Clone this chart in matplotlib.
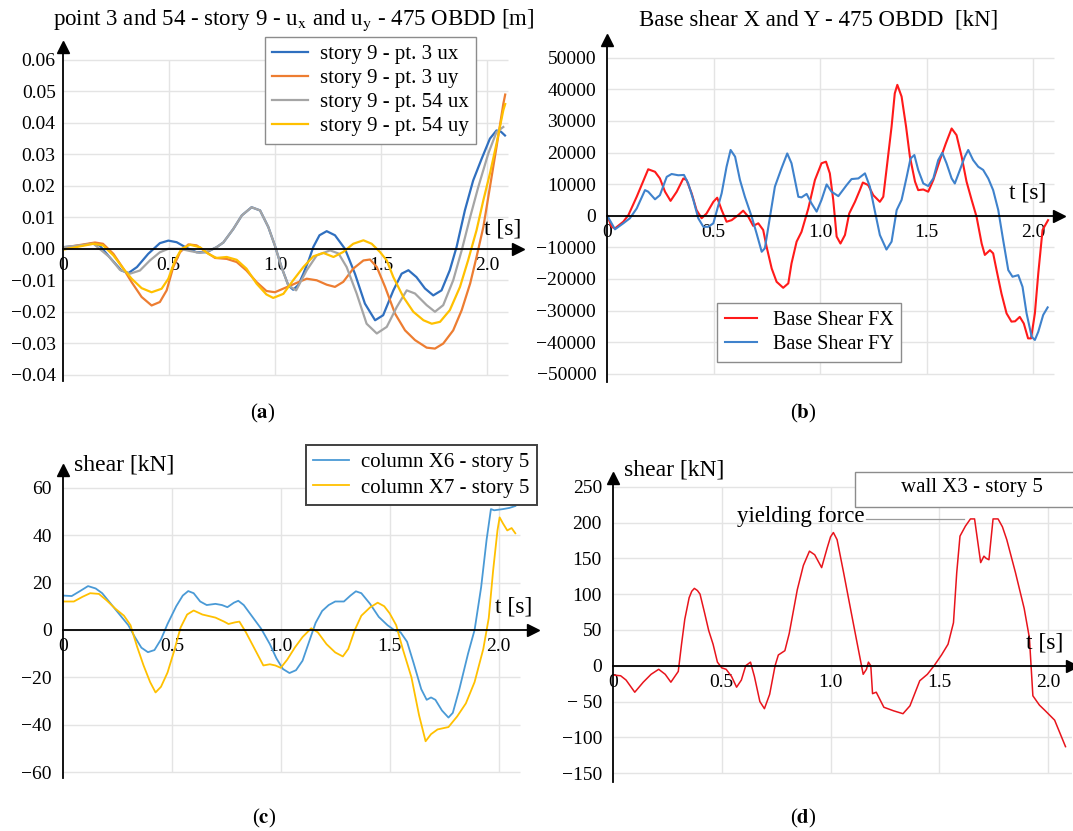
import matplotlib
matplotlib.use("Agg")
import matplotlib.pyplot as plt
from matplotlib.patches import Rectangle

plt.rcParams['font.family'] = ['Liberation Serif', 'DejaVu Serif']
plt.rcParams['mathtext.fontset'] = 'stix'
plt.rcParams['axes.unicode_minus'] = True

# ---- (a) displacements, story 9 ----
ta_b = [0, 0.08, 0.145, 0.175, 0.22, 0.277, 0.31, 0.35, 0.403, 0.458, 0.498, 0.537, 0.584, 0.631, 0.678,
        0.725, 0.757, 0.804, 0.844, 0.89, 0.93, 0.969, 1.0, 1.031, 1.063, 1.086, 1.11, 1.134, 1.16,
        1.181, 1.21, 1.244, 1.283, 1.33, 1.377, 1.424, 1.472, 1.51, 1.558, 1.597, 1.629, 1.667, 1.707,
        1.746, 1.785, 1.824, 1.856, 1.895, 1.934, 1.974, 2.013, 2.044, 2.065, 2.084]
ua_b = [0.0005, 0.001, 0.0018, 0.001, -0.0026, -0.0069, -0.0077, -0.0058, -0.0016, 0.0018, 0.0026,
        0.0021, 0.0003, -0.0011, -0.0011, 0.0005, 0.002, 0.0063, 0.0106, 0.0132, 0.0122, 0.0069, 0.001,
        -0.0058, -0.0116, -0.013, -0.0115, -0.0079, -0.0035, 0.0006, 0.0043, 0.0056, 0.0043, 0.0,
        -0.0079, -0.0174, -0.0227, -0.0211, -0.0132, -0.0079, -0.0068, -0.009, -0.0126, -0.0148,
        -0.0132, -0.0068, 0.0006, 0.0122, 0.0217, 0.0286, 0.035, 0.0376, 0.0372, 0.036]

ta_o = [0, 0.08, 0.152, 0.19, 0.239, 0.286, 0.325, 0.372, 0.419, 0.458, 0.49, 0.521, 0.553, 0.592,
        0.631, 0.678, 0.718, 0.773, 0.82, 0.866, 0.914, 0.96, 1.0, 1.055, 1.11, 1.15, 1.197, 1.244,
        1.283, 1.322, 1.369, 1.417, 1.448, 1.48, 1.519, 1.566, 1.613, 1.66, 1.715, 1.754, 1.793, 1.84,
        1.88, 1.92, 1.95, 1.982, 2.013, 2.044, 2.076, 2.085]
ua_o = [0.0003, 0.0012, 0.002, 0.0016, -0.0016, -0.0063, -0.0106, -0.0153, -0.018, -0.0169, -0.0132,
        -0.0058, -0.0011, 0.0014, 0.0011, -0.0011, -0.0029, -0.0032, -0.0042, -0.0069, -0.0106,
        -0.0134, -0.0138, -0.0122, -0.0106, -0.0095, -0.01, -0.0114, -0.0121, -0.0105, -0.0063,
        -0.0037, -0.0034, -0.0058, -0.0121, -0.0206, -0.0259, -0.029, -0.0314, -0.0317, -0.0301,
        -0.0259, -0.0195, -0.011, -0.0026, 0.0069, 0.0196, 0.0323, 0.046, 0.049]

ta_g = [0, 0.145, 0.22, 0.27, 0.317, 0.364, 0.411, 0.458, 0.498, 0.553, 0.6, 0.647, 0.686, 0.725, 0.757,
        0.804, 0.844, 0.89, 0.93, 0.969, 1.0, 1.031, 1.063, 1.1, 1.15, 1.197, 1.26, 1.3, 1.338, 1.385,
        1.432, 1.48, 1.527, 1.574, 1.621, 1.66, 1.715, 1.754, 1.793, 1.84, 1.88, 1.92, 1.958, 2.005,
        2.044, 2.076]
ua_g = [0.0005, 0.0016, -0.0026, -0.0067, -0.0079, -0.0069, -0.0037, -0.0011, 0.0, 0.0, -0.0007,
        -0.0013, -0.0007, 0.0005, 0.002, 0.0063, 0.0106, 0.0132, 0.0122, 0.0069, 0.001, -0.0058,
        -0.0116, -0.0132, -0.0068, -0.0021, -0.0005, -0.0015, -0.0058, -0.0142, -0.0238, -0.0269,
        -0.0248, -0.0185, -0.0132, -0.0142, -0.0179, -0.02, -0.0179, -0.01, -0.0005, 0.0101, 0.0196,
        0.0302, 0.0371, 0.0387]

ta_y = [0, 0.145, 0.19, 0.239, 0.286, 0.325, 0.372, 0.419, 0.466, 0.498, 0.529, 0.56, 0.6, 0.647,
        0.686, 0.725, 0.773, 0.82, 0.866, 0.914, 0.96, 0.992, 1.04, 1.086, 1.134, 1.181, 1.228, 1.276,
        1.322, 1.369, 1.417, 1.456, 1.495, 1.527, 1.558, 1.605, 1.652, 1.7, 1.739, 1.778, 1.824, 1.872,
        1.91, 1.95, 1.982, 2.013, 2.044, 2.076, 2.085]
ua_y = [-0.0003, 0.0016, 0.0011, -0.0021, -0.0063, -0.0095, -0.0125, -0.0138, -0.0127, -0.0095,
        -0.0037, 0.0, 0.0013, 0.0005, -0.0016, -0.0029, -0.0026, -0.0035, -0.0063, -0.0111, -0.0145,
        -0.0156, -0.0143, -0.01, -0.0058, -0.0024, -0.0013, -0.0026, -0.001, 0.0016, 0.0027, 0.0016,
        -0.001, -0.0037, -0.009, -0.0153, -0.02, -0.0227, -0.0238, -0.0232, -0.0195, -0.0121, -0.0037,
        0.0059, 0.0154, 0.0239, 0.0334, 0.044, 0.046]

ya_ticks = [-0.04, -0.03, -0.02, -0.01, 0.0, 0.01, 0.02, 0.03, 0.04, 0.05, 0.06]
ya_labels = ['\u22120.04', '\u22120.03', '\u22120.02', '\u22120.01', '0.00', '0.01', '0.02', '0.03',
             '0.04', '0.05', '0.06']

# ---- (b) base shear ----
tb_x = [0, 0.02, 0.036, 0.075, 0.099, 0.138, 0.161, 0.192, 0.224, 0.247, 0.271, 0.297, 0.326, 0.357,
        0.372, 0.396, 0.419, 0.443, 0.466, 0.498, 0.516, 0.537, 0.56, 0.584, 0.615, 0.638, 0.662, 0.685,
        0.709, 0.732, 0.748, 0.772, 0.795, 0.826, 0.85, 0.865, 0.889, 0.912, 0.944, 0.975, 1.006, 1.027,
        1.045, 1.061, 1.077, 1.095, 1.116, 1.136, 1.163, 1.186, 1.2, 1.225, 1.249, 1.28, 1.296, 1.311,
        1.335, 1.35, 1.362, 1.382, 1.403, 1.421, 1.445, 1.46, 1.484, 1.507, 1.531, 1.562, 1.59, 1.617,
        1.64, 1.664, 1.687, 1.711, 1.734, 1.758, 1.773, 1.797, 1.812, 1.828, 1.851, 1.875, 1.898, 1.915,
        1.937, 1.956, 1.976, 1.99, 2.008, 2.024, 2.044, 2.07]
vb_x = [0, -3500, -4000, -1900, 200, 6000, 9700, 14700, 13900, 11800, 7600, 4700, 7600, 11800, 11300,
        7100, 1800, -800, 700, 4400, 5700, 1800, -1900, -1400, 200, 1600, -300, -3200, -2400, -4500,
        -9800, -16700, -20900, -22800, -21400, -15100, -8200, -5100, 2300, 11300, 16600, 17100, 13400,
        5000, -6600, -8800, -6100, 700, 4400, 8100, 10500, 9700, 6500, 4400, 6000, 14500, 28200, 38700,
        41400, 37700, 28200, 18700, 10800, 8100, 8300, 7600, 11300, 17600, 22900, 27600, 25500, 18700,
        10800, 5000, -300, -8800, -12400, -10900, -11900, -17200, -24600, -30900, -33500, -33400,
        -32000, -34100, -38800, -38800, -30900, -18200, -4500, -1400]

tb_y = [0, 0.036, 0.075, 0.106, 0.138, 0.177, 0.192, 0.224, 0.247, 0.279, 0.302, 0.333, 0.36, 0.38,
        0.404, 0.427, 0.451, 0.474, 0.498, 0.537, 0.56, 0.579, 0.6, 0.623, 0.646, 0.678, 0.701, 0.725,
        0.74, 0.764, 0.787, 0.818, 0.845, 0.865, 0.897, 0.912, 0.936, 0.959, 0.983, 1.006, 1.03, 1.053,
        1.085, 1.124, 1.147, 1.179, 1.21, 1.233, 1.257, 1.28, 1.311, 1.335, 1.359, 1.382, 1.406, 1.424,
        1.442, 1.46, 1.484, 1.507, 1.531, 1.554, 1.573, 1.593, 1.617, 1.632, 1.656, 1.679, 1.695, 1.718,
        1.742, 1.765, 1.789, 1.812, 1.836, 1.859, 1.883, 1.903, 1.93, 1.95, 1.969, 1.993, 2.008, 2.024,
        2.047, 2.068]
vb_y = [0, -4300, -2400, -800, 2300, 8100, 7600, 5200, 6500, 12300, 13200, 12800, 12900, 10200, 5000,
        -800, -3500, -3500, -2400, 7100, 15500, 20800, 18700, 11300, 6000, -300, -5600, -11400, -10300,
        -300, 9200, 15000, 19700, 16600, 6000, 5800, 6900, 3900, 1300, 5000, 9900, 7600, 6200, 9700,
        11600, 11800, 13400, 9200, 1300, -6100, -10700, -8200, 1800, 5000, 12300, 18100, 19200, 14500,
        10200, 9400, 11800, 17600, 19900, 16600, 11800, 10200, 14500, 18700, 20800, 17600, 15500,
        14500, 11800, 8100, 1800, -7700, -17200, -19300, -18800, -22500, -30900, -38300, -39300,
        -36700, -31400, -29000]

yb_ticks = [-50000, -40000, -30000, -20000, -10000, 0, 10000, 20000, 30000, 40000, 50000]
yb_labels = ['\u221250000', '\u221240000', '\u221230000', '\u221220000', '\u221210000', '0',
             '10000', '20000', '30000', '40000', '50000']

# ---- (c) column shear, story 5 ----
tc_6 = [0, 0.04, 0.08, 0.115, 0.15, 0.18, 0.22, 0.26, 0.3, 0.33, 0.36, 0.39, 0.42, 0.45, 0.48, 0.52,
        0.55, 0.575, 0.6, 0.63, 0.66, 0.7, 0.73, 0.755, 0.785, 0.805, 0.83, 0.87, 0.91, 0.95, 0.98,
        1.01, 1.04, 1.07, 1.1, 1.13, 1.16, 1.19, 1.22, 1.25, 1.29, 1.32, 1.345, 1.37, 1.41, 1.45, 1.49,
        1.52, 1.55, 1.58, 1.61, 1.645, 1.67, 1.69, 1.71, 1.74, 1.77, 1.79, 1.82, 1.86, 1.89, 1.92,
        1.945, 1.965, 1.98, 2.02, 2.05, 2.077]
vc_6 = [14.5, 14.3, 16.5, 18.5, 17.5, 15.5, 11, 6.5, 2, -3, -7.5, -9.4, -8.5, -4, 2.5, 10, 14.5, 16.4,
        15.5, 12, 10.5, 11, 10.5, 9.6, 11.5, 12.3, 10.5, 5.5, 0.5, -6, -12, -16.5, -18.2, -17, -13, -5,
        3, 8, 10.5, 12, 12, 14.5, 16.3, 15.5, 11, 5.5, 2, 0, -1, -5, -14, -25, -29.5, -28.5, -29.5,
        -34, -37, -35, -25, -10, 0, 18, 38, 51, 50.5, 51, 51.5, 52.3]

tc_7 = [0, 0.05, 0.09, 0.125, 0.165, 0.2, 0.24, 0.28, 0.31, 0.34, 0.37, 0.4, 0.425, 0.45, 0.48, 0.51,
        0.54, 0.57, 0.6, 0.64, 0.7, 0.74, 0.76, 0.79, 0.81, 0.84, 0.88, 0.92, 0.95, 0.975, 1.0, 1.03,
        1.065, 1.1, 1.14, 1.17, 1.21, 1.25, 1.285, 1.31, 1.34, 1.37, 1.41, 1.445, 1.475, 1.5, 1.53,
        1.56, 1.6, 1.635, 1.665, 1.69, 1.72, 1.77, 1.81, 1.85, 1.89, 1.93, 1.955, 1.975, 1.995, 2.005,
        2.02, 2.04, 2.06, 2.077]
vc_7 = [12, 12, 14, 15.5, 15.2, 12.5, 9, 6, 2, -7, -15, -22, -26.4, -24, -18, -9, 1, 6.5, 8.2, 6.5,
        5.2, 3.5, 2.5, 3.2, 3.5, -1, -8, -15, -14.5, -15, -16, -12.5, -7.4, -3, 0.7, -1, -6, -9.5,
        -11.2, -8, 0, 6, 9.5, 11.5, 10, 7, 2, -8, -20, -36, -47, -44, -42, -41, -36.5, -31, -22, -8, 5,
        25, 42, 47.5, 45, 42, 43, 40.8]

yc_ticks = [-60, -40, -20, 0, 20, 40, 60]
yc_labels = ['\u221260', '\u221240', '\u221220', '0', '20', '40', '60']

# ---- (d) wall shear, story 5 ----
td = [0, 0.035, 0.06, 0.1, 0.139, 0.175, 0.21, 0.24, 0.266, 0.3, 0.315, 0.33, 0.35, 0.362, 0.374,
      0.388, 0.4, 0.42, 0.44, 0.46, 0.48, 0.5, 0.52, 0.545, 0.568, 0.59, 0.61, 0.632, 0.65, 0.675,
      0.696, 0.72, 0.745, 0.76, 0.79, 0.81, 0.847, 0.875, 0.903, 0.927, 0.959, 0.985, 1.0, 1.013,
      1.03, 1.06, 1.094, 1.12, 1.15, 1.165, 1.174, 1.185, 1.193, 1.21, 1.245, 1.29, 1.333, 1.365,
      1.41, 1.445, 1.476, 1.51, 1.54, 1.565, 1.58, 1.595, 1.62, 1.643, 1.662, 1.69, 1.705, 1.715,
      1.728, 1.747, 1.77, 1.79, 1.81, 1.85, 1.89, 1.914, 1.93, 1.96, 1.984, 2.03, 2.08]
vd = [-13, -14, -20, -37, -23, -12, -5, -12, -23, -8, 30, 65, 95, 104, 108, 105, 100, 75, 49, 30, 5,
      -3, -5, -15, -30, -20, 0, 5, -15, -50, -60, -40, 0, 15, 21, 45, 106, 140, 160, 155, 137, 165,
      180, 186, 176, 130, 76, 35, -12, -5, 5, 0, -39, -37, -58, -63, -67, -56, -21, -12, 0, 15, 30,
      60, 130, 181, 195, 205, 205, 144, 153, 150, 148, 205, 205, 194, 176, 130, 80, 39, -42, -55,
      -62, -76, -113]

yd_ticks = [-150, -100, -50, 0, 50, 100, 150, 200, 250]
yd_labels = ['\u2212150', '\u2212100', '\u2212 50', '0', '50', '100', '150', '200', '250']
yield_level = 205

x_ticks = [0, 0.5, 1.0, 1.5, 2.0]
x_labels = ['0', '0.5', '1.0', '1.5', '2.0']

GRID = '#e4e4e4'
FS = 14
LFS = 15


def arrow_axes(ax, xmax, ylim, yticks, ylabels, xgrid_end, ypad):
    ax.set_xlim(0, xmax)
    ax.set_ylim(*ylim)
    for s in ['top', 'right']:
        ax.spines[s].set_visible(False)
    ax.spines['bottom'].set_position(('data', 0))
    ax.spines['left'].set_linewidth(1.3)
    ax.spines['bottom'].set_linewidth(1.3)
    ax.hlines(yticks, 0, xgrid_end, color=GRID, lw=1.0, zorder=0)
    ax.vlines(x_ticks[1:], yticks[0], yticks[-1], color=GRID, lw=1.0, zorder=0)
    ax.set_yticks(yticks, ylabels)
    ax.set_xticks(x_ticks, x_labels)
    ax.tick_params(axis='y', length=0, pad=ypad, labelsize=FS)
    ax.tick_params(axis='x', length=0, pad=6, labelsize=FS)
    ax.plot(1, 0, '>', color='black', ms=8, transform=ax.get_yaxis_transform(), clip_on=False)
    ax.plot(0, 1, '^', color='black', ms=8, transform=ax.get_xaxis_transform(), clip_on=False)
    ax.set_facecolor('none')


def t_label(ax, dx, dy):
    ax.annotate('t [s]', xy=(1, 0), xycoords=ax.get_yaxis_transform(), xytext=(dx, dy),
                textcoords='offset pixels', ha='center', va='center', fontsize=17)


fig = plt.figure(figsize=(10.73, 8.31), dpi=100)

# (a)
ax = fig.add_axes([0.0584, 0.5415, 0.4243, 0.4019])
arrow_axes(ax, 2.145, (-0.042, 0.0641), ya_ticks, ya_labels, 2.10, 5)
ax.plot(ta_b, ua_b, color='#2F6FBF', lw=1.6, label='story 9 - pt. 3 ux')
ax.plot(ta_o, ua_o, color='#ED7D31', lw=1.6, label='story 9 - pt. 3 uy')
ax.plot(ta_g, ua_g, color='#A5A5A5', lw=1.6, label='story 9 - pt. 54 ux')
ax.plot(ta_y, ua_y, color='#FFC000', lw=1.6, label='story 9 - pt. 54 uy')
leg = ax.legend(loc='upper left', bbox_to_anchor=(0.444, 1.03), borderaxespad=0, fontsize=LFS,
                fancybox=False, edgecolor='#8c8c8c', framealpha=1, handlelength=1.7,
                handletextpad=0.6, labelspacing=0.22, borderpad=0.35)
leg.get_frame().set_linewidth(1.0)
t_label(ax, -15, 20)

# (b)
ax = fig.add_axes([0.566, 0.5407, 0.4207, 0.4112])
arrow_axes(ax, 2.12, (-52500, 55600), yb_ticks, yb_labels, 2.10, 8)
ax.plot(tb_x, vb_x, color='#FF1A1A', lw=1.5, label='Base Shear FX')
ax.plot(tb_y, vb_y, color='#3F82CC', lw=1.5, label='Base Shear FY')
leg = ax.legend(loc='upper left', bbox_to_anchor=(0.2433, 0.2303), borderaxespad=0, fontsize=14.5,
                fancybox=False, edgecolor='#8c8c8c', framealpha=1, handlelength=1.6,
                handletextpad=0.75, labelspacing=0.25, borderpad=0.4)
leg.get_frame().set_linewidth(1.0)
t_label(ax, -31, 23)

# (c)
ax = fig.add_axes([0.0587, 0.0638, 0.438, 0.3706])
arrow_axes(ax, 2.158, (-62.5, 67.5), yc_ticks, yc_labels, 2.10, 8)
ax.plot(tc_6, vc_6, color='#4A9AD6', lw=1.3, label='column X6 - story 5')
ax.plot(tc_7, vc_7, color='#FFC000', lw=1.3, label='column X7 - story 5')
leg = ax.legend(loc='upper left', bbox_to_anchor=(0.517, 1.081), borderaxespad=0, fontsize=LFS,
                fancybox=False, edgecolor='#404040', framealpha=1, handlelength=1.7,
                handletextpad=0.6, labelspacing=0.3, borderpad=0.35)
leg.get_frame().set_linewidth(1.4)
ax.text(0.023, 1.015, 'shear [kN]', transform=ax.transAxes, fontsize=17, ha='left', va='center')
t_label(ax, -19, 23)

# (d)
ax = fig.add_axes([0.5713, 0.0593, 0.4278, 0.3651])
arrow_axes(ax, 2.11, (-162, 261.7), yd_ticks, yd_labels, 2.11, 8)
ax.plot(td, vd, color='#E8141C', lw=1.1)
ax.plot([1.163, 1.613], [yield_level, yield_level], color='#9a9a9a', lw=0.9)
ax.text(1.155, yield_level + 3, 'yielding force', ha='right', va='center', fontsize=16.5)
ax.text(0.024, 1.026, 'shear [kN]', transform=ax.transAxes, fontsize=17, ha='left', va='center')
t_label(ax, -27, 23)
fig.patches.append(Rectangle((855 / 1073, 1 - 507 / 831), 0.25, 35 / 831, transform=fig.transFigure,
                             facecolor='white', edgecolor='#8c8c8c', lw=1.0, zorder=5))
fig.text(972 / 1073, 1 - 488 / 831, 'wall X3 - story 5', ha='center', va='center', fontsize=LFS,
         zorder=6)

# titles and captions
fig.text(0.2735, 1 - 20 / 831, 'point 3 and 54 - story 9 - u$_{\\rm x}$ and u$_{\\rm y}$ - 475 OBDD [m]',
         ha='center', va='center', fontsize=16.5)
fig.text(819 / 1073, 1 - 20 / 831, 'Base shear X and Y - 475 OBDD  [kN]', ha='center', va='center',
         fontsize=16.5)
for cx, cy, letter in [(263, 413, 'a'), (803, 413, 'b'), (264, 818, 'c'), (803, 818, 'd')]:
    fig.text(cx / 1073, 1 - cy / 831, '($\\mathbf{%s}$)' % letter, ha='center', va='center',
             fontsize=15)

fig.savefig('out.png', dpi=100)
